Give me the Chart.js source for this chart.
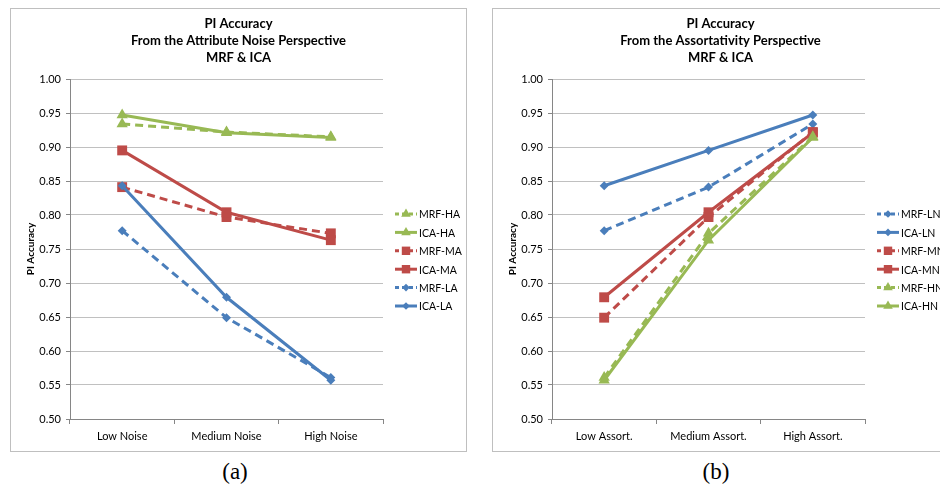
<!DOCTYPE html>
<html>
<head>
<meta charset="UTF-8" />
<title>PI Accuracy - MRF &amp; ICA</title>
<script src="https://cdn.jsdelivr.net/npm/chart.js"></script>
<style>
    body { margin: 0; width: 940px; height: 487px; overflow: hidden; background: #fff; position: relative; }
    .panel { position: absolute; top: 8px; width: 457px; height: 444px; border: 1px solid #bfbfbf; box-sizing: border-box; }
    #panelA { left: 10px; }
    #panelB { left: 492px; }
    .caption { position: absolute; top: 459px; width: 60px; text-align: center; font-family: 'Liberation Serif', serif; font-size: 23px; }
</style>
</head>
<body>
<div class="panel" id="panelA"><canvas id="chartA" width="455" height="442"></canvas></div>
<div class="panel" id="panelB"><canvas id="chartB" width="455" height="442"></canvas></div>
<div class="caption" style="left:205px">(a)</div>
<div class="caption" style="left:686px">(b)</div>

<script type="text/javascript">
    // categories
    const noiseLabels = ['Low Noise', 'Medium Noise', 'High Noise'];
    const assortLabels = ['Low Assort.', 'Medium Assort.', 'High Assort.'];
    const yTicks = [0.50, 0.55, 0.60, 0.65, 0.70, 0.75, 0.80, 0.85, 0.90, 0.95, 1.00];

    // (a) attribute noise perspective
    const mrfHA = [0.934, 0.922, 0.915];
    const icaHA = [0.947, 0.921, 0.914];
    const mrfMA = [0.841, 0.797, 0.773];
    const icaMA = [0.895, 0.804, 0.763];
    const mrfLA = [0.777, 0.649, 0.561];
    const icaLA = [0.843, 0.679, 0.557];

    // (b) assortativity perspective
    const mrfLN = [0.777, 0.841, 0.934];
    const icaLN = [0.843, 0.895, 0.947];
    const mrfMN = [0.649, 0.797, 0.922];
    const icaMN = [0.679, 0.804, 0.921];
    const mrfHN = [0.561, 0.773, 0.915];
    const icaHN = [0.557, 0.763, 0.914];

    const BLUE = '#4A7EBB', RED = '#BE4B48', GREEN = '#98B954';
    const FONT = 'Lato';

    function series(label, data, color, dashed, style) {
        const r = style === 'rect' ? 7 : (style === 'triangle' ? 6.5 : 4.5);
        return {
            label: label,
            data: data,
            borderColor: color,
            backgroundColor: color,
            borderWidth: 3,
            borderDash: dashed ? [8, 5] : [],
            pointStyle: style,
            pointRadius: r,
            pointHoverRadius: r,
            pointBorderWidth: 0,
            pointBackgroundColor: color,
            tension: 0
        };
    }

    // title, y title and legend drawn by hand (line + marker legend like Excel)
    const panelText = {
        id: 'panelText',
        afterDraw(chart, args, opts) {
            const ctx = chart.ctx;
            const area = chart.chartArea;
            ctx.save();
            ctx.fillStyle = '#000';
            ctx.textAlign = 'center';
            ctx.textBaseline = 'middle';
            ctx.font = 'bold 13px ' + FONT;
            opts.title.forEach((line, i) => ctx.fillText(line, chart.width / 2, 15 + i * 17));

            ctx.save();
            ctx.translate(20, (area.top + area.bottom) / 2);
            ctx.rotate(-Math.PI / 2);
            ctx.font = 'bold 10px ' + FONT;
            ctx.fillText('PI Accuracy', 0, 0);
            ctx.restore();

            ctx.textAlign = 'left';
            ctx.font = '10.5px ' + FONT;
            chart.data.datasets.forEach((ds, i) => {
                const y = 205 + i * 18.4;
                const x0 = 384, x1 = 406;
                ctx.strokeStyle = ds.borderColor;
                ctx.lineWidth = 3;
                ctx.setLineDash(ds.borderDash.length ? [4, 3] : []);
                ctx.beginPath();
                ctx.moveTo(x0, y);
                ctx.lineTo(x1, y);
                ctx.stroke();
                ctx.setLineDash([]);
                ctx.fillStyle = ds.borderColor;
                Chart.helpers.drawPoint(ctx, { pointStyle: ds.pointStyle, radius: ds.pointRadius * 0.85, borderWidth: 0, rotation: 0 }, (x0 + x1) / 2, y);
                ctx.fillStyle = '#000';
                ctx.fillText(ds.label, x1 + 2, y + 1);
            });
            ctx.restore();
        }
    };

    function makeChart(id, labels, datasets, title) {
        const n = datasets.length;
        datasets.forEach((ds, i) => { ds.order = n - i; });
        return new Chart(document.getElementById(id), {
            type: 'line',
            data: { labels: labels, datasets: datasets },
            plugins: [panelText],
            options: {
                responsive: false,
                animation: false,
                devicePixelRatio: 1,
                layout: { padding: { left: 0, top: 70, right: 83, bottom: 0 } },
                plugins: {
                    legend: { display: false },
                    title: { display: false },
                    tooltip: { enabled: false },
                    panelText: { title: title }
                },
                scales: {
                    x: {
                        offset: true,
                        grid: { offset: true, drawOnChartArea: false, tickLength: 5, color: '#868686' },
                        border: { color: '#868686' },
                        ticks: { color: '#000', padding: 6, font: { family: FONT, size: 11 }, maxRotation: 0 },
                        afterFit: s => { s.height = 32; }
                    },
                    y: {
                        min: 0.5,
                        max: 1.0,
                        afterBuildTicks: s => { s.ticks = yTicks.map(v => ({ value: v })); },
                        grid: { color: '#c0c0c0', tickLength: 4, tickColor: '#868686' },
                        border: { color: '#868686' },
                        ticks: { color: '#000', padding: 5, font: { family: FONT, size: 11 }, callback: v => Number(v).toFixed(2) },
                        afterFit: s => { s.width = 59; }
                    }
                }
            }
        });
    }

    makeChart('chartA', noiseLabels, [
        series('MRF-HA', mrfHA, GREEN, true, 'triangle'),
        series('ICA-HA', icaHA, GREEN, false, 'triangle'),
        series('MRF-MA', mrfMA, RED, true, 'rect'),
        series('ICA-MA', icaMA, RED, false, 'rect'),
        series('MRF-LA', mrfLA, BLUE, true, 'rectRot'),
        series('ICA-LA', icaLA, BLUE, false, 'rectRot')
    ], ['PI Accuracy', 'From the Attribute Noise Perspective', 'MRF & ICA']);

    makeChart('chartB', assortLabels, [
        series('MRF-LN', mrfLN, BLUE, true, 'rectRot'),
        series('ICA-LN', icaLN, BLUE, false, 'rectRot'),
        series('MRF-MN', mrfMN, RED, true, 'rect'),
        series('ICA-MN', icaMN, RED, false, 'rect'),
        series('MRF-HN', mrfHN, GREEN, true, 'triangle'),
        series('ICA-HN', icaHN, GREEN, false, 'triangle')
    ], ['PI Accuracy', 'From the Assortativity Perspective', 'MRF & ICA']);
</script>
</body>
</html>
